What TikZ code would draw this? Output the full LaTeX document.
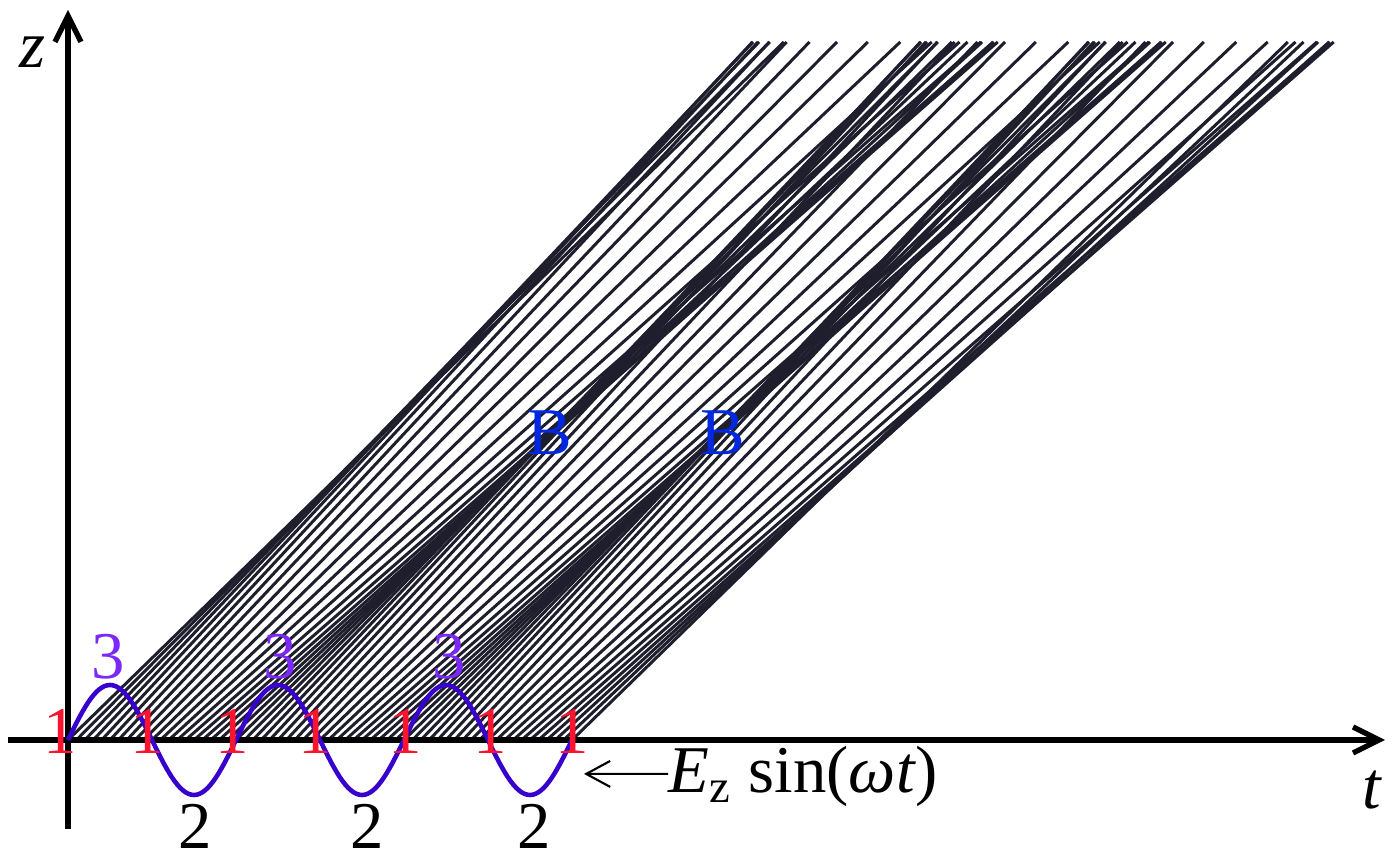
\documentclass[tikz,border=0pt]{standalone}
\usepackage{fontspec}
\setmainfont{Liberation Serif}
\usetikzlibrary{arrows.meta}
\definecolor{crossred}{RGB}{250,20,45}
\definecolor{peakviolet}{RGB}{125,40,250}
\definecolor{bunchblue}{RGB}{0,40,225}
\definecolor{fieldblue}{RGB}{55,0,205}
\definecolor{pathgray}{RGB}{30,30,45}

\begin{document}
\begin{tikzpicture}[every node/.style={font=\fontsize{19}{23}\selectfont, inner sep=0pt},
  axis/.style={line width=1.5pt, -{Straight Barb[length=2.6mm,width=2.6mm]}},
  traj/.style={pathgray, line width=0.85pt},
  field/.style={fieldblue, line width=1.3pt}]
\useasboundingbox (-0.68,-1.24) rectangle (13.26,7.40);

% electron paths, launched over three periods
\foreach \k in {0,...,60}{
  \pgfmathsetmacro{\tz}{0.084*\k}
  \pgfmathsetmacro{\vz}{0.975*(1+0.105*sin(360*\tz/1.68))}
  \draw[traj] (\tz,0) -- ({\tz+6.98/\vz},6.98);
}

% Define axes
\coordinate (O) at (0,0);
\coordinate (zlow) at (0,-0.89);
\coordinate (ztop) at (0,7.30);
\coordinate (tlow) at (-0.60,0);
\coordinate (ttop) at (13.17,0);
\draw[axis] (zlow) -- (ztop);
\draw[axis] (tlow) -- (ttop);
\path (ztop) +(-0.36,-0.42) node[font=\fontsize{19}{23}\selectfont\itshape] (zlab) {z}
(ttop) +(-0.13,-0.50) node[font=\fontsize{19}{23}\selectfont\itshape] (tlab) {t};

% field
\draw[field] plot[domain=0:5.04, samples=181] (\x,{0.55*sin(360*\x/1.68)});

% Define labels
\path
(O) +(-0.08,0.09) node[crossred] (c0) {1}
(O) +(0.79,0.09) node[crossred] (c1) {1}
(O) +(1.64,0.09) node[crossred] (c2) {1}
(O) +(2.47,0.09) node[crossred] (c3) {1}
(O) +(3.37,0.09) node[crossred] (c4) {1}
(O) +(4.22,0.09) node[crossred] (c5) {1}
(O) +(5.04,0.09) node[crossred] (c6) {1}
(O) +(0.40,0.83) node[peakviolet] (p1) {3}
(O) +(2.12,0.83) node[peakviolet] (p2) {3}
(O) +(3.81,0.83) node[peakviolet] (p3) {3}
(O) +(1.27,-0.86) node (d1) {2}
(O) +(2.99,-0.86) node (d2) {2}
(O) +(4.66,-0.86) node (d3) {2}
(O) +(4.82,3.07) node[bunchblue] (b1) {B}
(O) +(6.55,3.07) node[bunchblue] (b2) {B}
(O) +(6.00,-0.53) node[anchor=base west] (ez) {\textit{E}\textsubscript{z} sin(\textit{ωt})}
;
\path (ez.west) ++(-0.84,0.03) coordinate (eztip);
\draw[line width=0.6pt, -{Straight Barb[length=2.4mm,width=2.6mm]}] ([yshift=0.3mm]ez.west) -- (eztip);

\end{tikzpicture}
\end{document}
